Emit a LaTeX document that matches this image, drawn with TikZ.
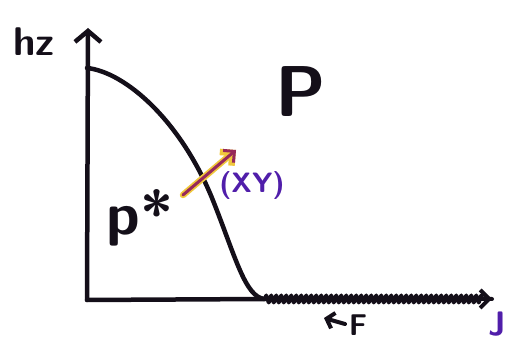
\documentclass[tikz,border=0pt]{standalone}
\usepackage{xcolor}
\definecolor{inkcolor}{RGB}{20, 15, 25}
\definecolor{labcolor}{RGB}{80, 30, 170}
\definecolor{vecred}{RGB}{150, 40, 90}
\definecolor{vecglow}{RGB}{240, 200, 60}
\usepackage{tikz}
\usetikzlibrary{arrows.meta, decorations.pathmorphing}

\begin{document}
\begin{tikzpicture}[x=1pt, y=-1pt, line cap=round, line join=round]
  \useasboundingbox (0,0) rectangle (515,347);

  % Points
  \coordinate (O) at (87,300);
  \coordinate (ytop) at (88,28);
  \coordinate (bend) at (265,299);
  \coordinate (xtop) at (492,299);
  \coordinate (top) at (87,68);

  % Axes
  \draw[inkcolor, line width=4.5pt, -{Straight Barb[length=11pt, width=26pt]}] (O) -- (ytop);
  \draw[inkcolor, line width=4.5pt] (O) -- (bend);
  \draw[inkcolor, line width=4pt, decorate, decoration={zigzag, amplitude=3.5pt, segment length=5pt, post length=8pt}] (bend) -- (xtop);
  \draw[inkcolor, line width=4pt, -{Straight Barb[length=9pt, width=18pt]}] (475,299) -- (xtop);

  % Curve
  \draw[inkcolor, line width=4.5pt] (top) .. controls (125,72) and (180,120) .. (212,198)
    .. controls (235,255) and (245,298) .. (bend);

  % Labels
  \node[inkcolor, font=\fontsize{40}{40}\selectfont\sffamily\bfseries] (hz) at (34,42) {hz};
  \node[inkcolor, font=\fontsize{72}{72}\selectfont\sffamily\bfseries] (P) at (301,92) {P};
  \node[inkcolor, font=\fontsize{60}{60}\selectfont\sffamily\bfseries] (pstar) at (140,218) {p*};
  \node[labcolor, font=\fontsize{28}{28}\selectfont\sffamily\bfseries] (xy) at (252,186) {(XY)};
  \node[inkcolor, font=\fontsize{30}{30}\selectfont\sffamily\bfseries] (F) at (358,325) {F};
  \node[labcolor, font=\fontsize{34}{34}\selectfont\sffamily\bfseries] (J) at (497,324) {J};

  % Vector
  \coordinate (v0) at (183,195);
  \coordinate (v1) at (236,150);
  \draw[vecglow, line width=6.5pt, -{Straight Barb[length=9pt, width=18pt]}] (v0) -- (v1);
  \draw[vecred, line width=3pt, -{Straight Barb[length=8pt, width=16pt]}] (v0) -- (v1);

  % Force mark
  \coordinate (f0) at (345,324);
  \coordinate (f1) at (324,318);
  \draw[inkcolor, line width=4pt, -{Straight Barb[length=7pt, width=16pt]}] (f0) -- (f1);
\end{tikzpicture}
\end{document}
